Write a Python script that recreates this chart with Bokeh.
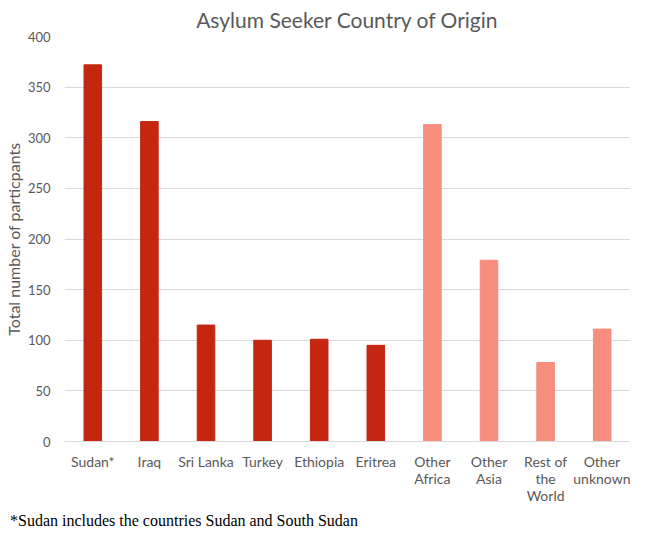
from bokeh.plotting import figure
from bokeh.models import ColumnDataSource, Range1d, FixedTicker, Div
from bokeh.layouts import column
from bokeh.embed import file_html
from bokeh.resources import INLINE

categories = ["Sudan*", "Iraq", "Sri Lanka", "Turkey", "Ethiopia", "Eritrea",
              "Other\nAfrica", "Other\nAsia", "Rest of\nthe\nWorld", "Other\nunknown"]
values = [372, 316, 115, 100, 101, 95, 313, 179, 78, 111]
groups = ["country"] * 6 + ["region"] * 4
palette = {"country": "#C42610", "region": "#F78D7C"}
colors = [palette[g] for g in groups]
y_ticks = [0, 50, 100, 150, 200, 250, 300, 350, 400]
footnote = "*Sudan includes the countries Sudan and South Sudan"

src = ColumnDataSource(dict(cat=categories, val=values, color=colors))

FONT = "Lato"
GREY = "#595959"

p = figure(x_range=categories, width=630, height=506, output_backend="svg",
           toolbar_location=None, tools="")
p.y_range = Range1d(0, 400)
p.vbar(x="cat", top="val", width=0.31, color="color", source=src)

p.title.text = "Asylum Seeker Country of Origin"
p.title.align = "center"
p.title.text_font = FONT
p.title.text_font_style = "normal"
p.title.text_font_size = "21px"
p.title.text_color = GREY
p.title.standoff = 9

p.yaxis.ticker = FixedTicker(ticks=y_ticks)
p.yaxis.axis_label = "Total number of particpants"
p.yaxis.axis_label_text_font = FONT
p.yaxis.axis_label_text_font_style = "normal"
p.yaxis.axis_label_text_font_size = "16px"
p.yaxis.axis_label_text_color = GREY
p.yaxis.axis_label_standoff = 2
p.yaxis.major_label_text_font = FONT
p.yaxis.major_label_text_font_size = "13px"
p.yaxis.major_label_text_color = GREY
p.yaxis.axis_line_color = None
p.yaxis.major_tick_line_color = None
p.yaxis.minor_tick_line_color = None
p.yaxis.major_label_standoff = 8

p.xaxis.major_label_text_font = FONT
p.xaxis.major_label_text_font_size = "14px"
p.xaxis.major_label_text_color = GREY
p.xaxis.major_label_text_line_height = 1.0
p.xaxis.axis_line_color = "#D9D9D9"
p.xaxis.major_tick_line_color = None
p.xaxis.minor_tick_line_color = None
p.xaxis.major_label_standoff = 5

p.xgrid.grid_line_color = None
p.ygrid.grid_line_color = "#D9D9D9"
p.outline_line_color = None
p.min_border_right = 0
p.min_border_left = 0
p.min_border_bottom = 0
p.min_border_top = 0

note = Div(text=footnote, width=600, height=18, margin=(6, 0, 0, 10),
           styles={"font-family": "Liberation Serif", "font-size": "16px",
                   "color": "#000000", "white-space": "nowrap", "line-height": "18px"})

layout = column(p, note, spacing=0)

open("out.html", "w").write(file_html(layout, INLINE))
